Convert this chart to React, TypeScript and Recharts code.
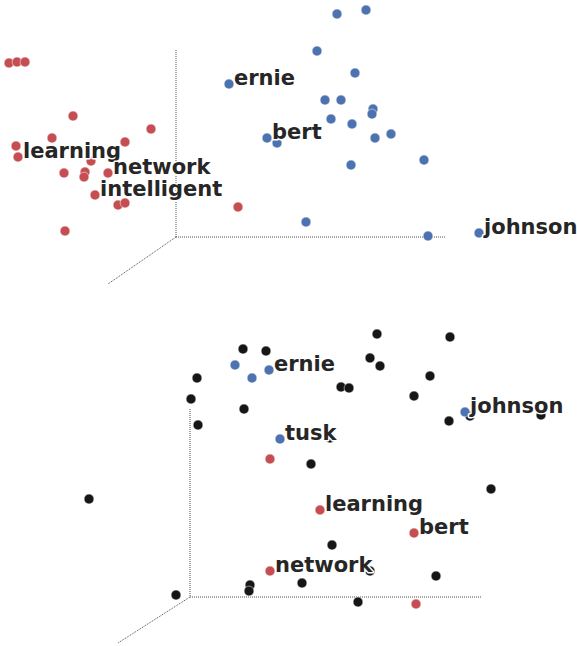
import React from 'react';
import { ScatterChart, Scatter, XAxis, YAxis, ReferenceLine } from 'recharts';

const BLUE = '#4c72b0';
const RED = '#c44e52';
const BLACK = '#161616';
const W = 577;

// Top panel projected positions
const topRed = [
  { x: 9, y: 63 }, { x: 17, y: 62 }, { x: 25, y: 62 }, { x: 73, y: 116 },
  { x: 151, y: 129 }, { x: 52, y: 138 }, { x: 125, y: 142 }, { x: 16, y: 146 },
  { x: 18, y: 157 }, { x: 91, y: 161 }, { x: 64, y: 173 }, { x: 85, y: 172 },
  { x: 84, y: 177 }, { x: 108, y: 173 }, { x: 95, y: 195 }, { x: 118, y: 205 },
  { x: 125, y: 203 }, { x: 65, y: 231 }, { x: 238, y: 207 },
];
const topBlue = [
  { x: 337, y: 14 }, { x: 366, y: 10 }, { x: 317, y: 51 }, { x: 355, y: 73 },
  { x: 229, y: 84 }, { x: 325, y: 100 }, { x: 341, y: 100 }, { x: 373, y: 109 },
  { x: 372, y: 114 }, { x: 331, y: 119 }, { x: 352, y: 124 }, { x: 267, y: 138 },
  { x: 277, y: 143 }, { x: 391, y: 134 }, { x: 375, y: 138 }, { x: 424, y: 160 },
  { x: 351, y: 165 }, { x: 306, y: 222 }, { x: 428, y: 236 }, { x: 479, y: 233 },
];
const topLabels = [
  { x: 18, y: 157, name: 'learning' },
  { x: 108, y: 173, name: 'network' },
  { x: 95, y: 195, name: 'intelligent' },
  { x: 229, y: 84, name: 'ernie' },
  { x: 267, y: 138, name: 'bert' },
  { x: 479, y: 233, name: 'johnson' },
];
const topAxes = [
  [{ x: 176, y: 50 }, { x: 176, y: 237 }],
  [{ x: 176, y: 237 }, { x: 445, y: 237 }],
  [{ x: 176, y: 237 }, { x: 108, y: 284 }],
];

// Bottom panel projected positions
const bottomBlack = [
  { x: 243, y: 349 }, { x: 266, y: 351 }, { x: 197, y: 378 }, { x: 191, y: 399 },
  { x: 244, y: 409 }, { x: 198, y: 425 }, { x: 311, y: 464 }, { x: 89, y: 499 },
  { x: 302, y: 583 }, { x: 250, y: 585 }, { x: 249, y: 591 }, { x: 176, y: 595 },
  { x: 377, y: 334 }, { x: 450, y: 337 }, { x: 370, y: 358 }, { x: 380, y: 366 },
  { x: 430, y: 376 }, { x: 341, y: 387 }, { x: 349, y: 388 }, { x: 414, y: 396 },
  { x: 470, y: 416 }, { x: 541, y: 415 }, { x: 449, y: 421 }, { x: 491, y: 489 },
  { x: 332, y: 545 }, { x: 436, y: 576 }, { x: 358, y: 602 }, { x: 330, y: 438 },
  { x: 370, y: 571 },
];
const bottomBlue = [
  { x: 235, y: 365 }, { x: 269, y: 370 }, { x: 252, y: 378 }, { x: 280, y: 439 },
  { x: 465, y: 412 },
];
const bottomRed = [
  { x: 270, y: 459 }, { x: 320, y: 510 }, { x: 270, y: 571 }, { x: 414, y: 533 },
  { x: 416, y: 604 },
];
const bottomLabels = [
  { x: 269, y: 370, name: 'ernie' },
  { x: 280, y: 439, name: 'tusk' },
  { x: 465, y: 412, name: 'johnson' },
  { x: 320, y: 510, name: 'learning' },
  { x: 414, y: 533, name: 'bert' },
  { x: 270, y: 571, name: 'network' },
];
const bottomAxes = [
  [{ x: 190, y: 409 }, { x: 190, y: 597 }],
  [{ x: 190, y: 597 }, { x: 481, y: 597 }],
  [{ x: 190, y: 597 }, { x: 118, y: 643 }],
];

const makeDot = (color: string) => (props: any) => (
  <circle cx={props.cx} cy={props.cy} r={4.9} fill={color} stroke="#ffffff" strokeWidth={0.5} />
);

const LabelShape = (props: any) => (
  <text
    x={props.cx + 5}
    y={props.cy + 0.5}
    fontFamily="DejaVu Sans"
    fontWeight="bold"
    fontSize={21}
    fill="#262626"
    stroke="#ffffff"
    strokeWidth={3}
    strokeLinejoin="round"
    style={{ paintOrder: 'stroke' }}
  >
    {props.payload.name}
  </text>
);

type Pt = { x: number; y: number };

function Panel({
  y0, y1, series, labels, axes,
}: {
  y0: number; y1: number;
  series: { data: Pt[]; color: string }[];
  labels: (Pt & { name: string })[];
  axes: Pt[][];
}) {
  return (
    <ScatterChart width={W} height={y1 - y0} margin={{ top: 0, right: 0, bottom: 0, left: 0 }}>
      <XAxis type="number" dataKey="x" domain={[0, W]} hide allowDataOverflow />
      <YAxis type="number" dataKey="y" domain={[y0, y1]} reversed hide allowDataOverflow />
      {axes.map((seg, i) => (
        <ReferenceLine
          key={i}
          segment={seg}
          stroke="#3a3a3a"
          strokeWidth={0.9}
          strokeDasharray="1 1"
          ifOverflow="visible"
        />
      ))}
      {series.map((s, i) => (
        <Scatter key={i} data={s.data} shape={makeDot(s.color)} isAnimationActive={false} />
      ))}
      <Scatter data={labels} shape={LabelShape} isAnimationActive={false} />
    </ScatterChart>
  );
}

export default function App() {
  return (
    <div style={{ position: 'absolute', left: 0, top: 0, width: W, height: 646, background: '#fff' }}>
      <Panel
        y0={0}
        y1={323}
        series={[{ data: topRed, color: RED }, { data: topBlue, color: BLUE }]}
        labels={topLabels}
        axes={topAxes}
      />
      <Panel
        y0={323}
        y1={646}
        series={[
          { data: bottomBlack, color: BLACK },
          { data: bottomBlue, color: BLUE },
          { data: bottomRed, color: RED },
        ]}
        labels={bottomLabels}
        axes={bottomAxes}
      />
    </div>
  );
}
